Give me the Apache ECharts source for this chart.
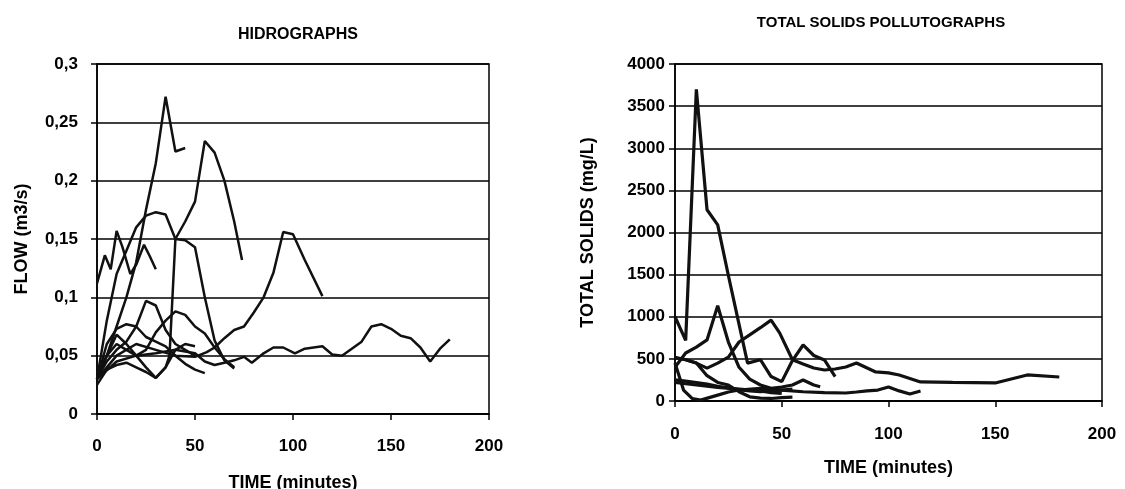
<!DOCTYPE html>
<html style="height: 100%">
<head>
<meta charset="utf-8">
<title>Hidrographs and pollutographs</title>
</head>
<body style="height: 100%; margin: 0; background: #fff">
<div id="container" style="width: 1125px; height: 489px"></div>
<script src="https://cdn.jsdelivr.net/npm/echarts@6/dist/echarts.min.js"></script>
<script>
// time (minutes) ticks shared by both charts
let timeTicks = [0, 50, 100, 150, 200];
let flowTicks = [0, 0.05, 0.1, 0.15, 0.2, 0.25, 0.3];
let solidsTicks = [0, 500, 1000, 1500, 2000, 2500, 3000, 3500, 4000];

// hidrographs: [time, flow m3/s]
let flow1 = [[0, 0.03], [5, 0.05], [10, 0.075], [15, 0.1], [20, 0.13], [25, 0.175], [30, 0.215], [35, 0.272], [40, 0.225], [45, 0.228]];
let flow2 = [[0, 0.025], [5, 0.038], [10, 0.042], [15, 0.044], [20, 0.04], [25, 0.036], [30, 0.031], [35, 0.04], [37, 0.05], [40, 0.15], [45, 0.165], [50, 0.182], [55, 0.234], [60, 0.224], [65, 0.2], [70, 0.165], [74, 0.132]];
let flow3 = [[0, 0.03], [5, 0.08], [10, 0.12], [15, 0.14], [20, 0.16], [25, 0.17], [30, 0.173], [35, 0.171], [40, 0.15], [45, 0.149], [50, 0.143], [55, 0.1], [60, 0.063], [65, 0.046], [70, 0.039]];
let flow4 = [[0, 0.112], [4, 0.136], [7, 0.124], [10, 0.157], [13, 0.143], [17, 0.12], [20, 0.128], [24, 0.145], [27, 0.135], [30, 0.124]];
let flow5 = [[0, 0.03], [5, 0.04], [10, 0.05], [20, 0.06], [30, 0.055], [40, 0.05], [50, 0.049], [56, 0.053], [60, 0.057], [65, 0.065], [70, 0.072], [75, 0.075], [80, 0.087], [85, 0.1], [90, 0.121], [95, 0.156], [100, 0.154], [106, 0.132], [115, 0.101]];
let flow6 = [[0, 0.03], [10, 0.045], [20, 0.05], [30, 0.052], [40, 0.055], [50, 0.052], [55, 0.045], [60, 0.042], [65, 0.044], [70, 0.046], [75, 0.049], [79, 0.044], [85, 0.052], [90, 0.057], [95, 0.057], [101, 0.052], [106, 0.056], [115, 0.058], [120, 0.051], [125, 0.05], [130, 0.056], [135, 0.062], [140, 0.075], [145, 0.077], [150, 0.073], [155, 0.067], [160, 0.065], [165, 0.057], [170, 0.045], [175, 0.056], [180, 0.064]];
let flow7 = [[0, 0.03], [5, 0.05], [10, 0.06], [15, 0.055], [20, 0.05], [25, 0.055], [30, 0.07], [35, 0.08], [40, 0.088], [45, 0.085], [50, 0.075], [55, 0.069], [60, 0.057], [65, 0.047], [70, 0.04]];
let flow8 = [[0, 0.03], [5, 0.045], [10, 0.055], [15, 0.062], [20, 0.075], [25, 0.097], [30, 0.093], [35, 0.072], [40, 0.06], [45, 0.055], [50, 0.05]];
let flow9 = [[0, 0.03], [5, 0.06], [10, 0.073], [15, 0.077], [20, 0.075], [25, 0.066], [30, 0.062], [35, 0.058], [40, 0.05], [45, 0.043], [50, 0.038], [55, 0.035]];
let flow10 = [[0, 0.035], [5, 0.05], [10, 0.068], [15, 0.06], [20, 0.05], [25, 0.04], [30, 0.031], [35, 0.04], [40, 0.055], [45, 0.06], [50, 0.058]];

// pollutographs: [time, total solids mg/L]
let solids1 = [[0, 1000], [5, 720], [10, 3700], [15, 2270], [20, 2090], [25, 1490], [30, 910], [34, 450], [40, 490], [45, 290], [50, 230], [55, 480], [60, 665], [65, 540], [70, 487], [75, 290]];
let solids2 = [[0, 400], [5, 570], [10, 640], [15, 725], [20, 1130], [25, 700], [30, 400], [35, 260], [40, 190], [45, 150], [50, 166], [55, 190], [60, 250], [65, 190], [68, 170]];
let solids3 = [[0, 520], [5, 490], [10, 450], [15, 390], [20, 450], [25, 520], [30, 700], [35, 785], [40, 870], [45, 960], [49, 808], [55, 490], [60, 440], [65, 392], [70, 368], [75, 380], [80, 404], [85, 451], [94, 345], [100, 333], [105, 309], [115, 226], [130, 220], [150, 214], [165, 309], [180, 285]];
let solids4 = [[0, 510], [5, 490], [10, 450], [15, 300], [20, 220], [25, 190], [30, 110], [35, 50], [40, 35], [45, 30], [50, 40], [55, 45]];
let solids5 = [[0, 250], [5, 235], [10, 220], [15, 200], [20, 175], [25, 155], [30, 135], [35, 120], [40, 110], [45, 120], [50, 130], [55, 140]];
let solids6 = [[0, 450], [4, 130], [8, 30], [12, 10], [20, 70], [25, 107], [30, 130], [40, 150], [50, 130], [60, 110], [70, 100], [80, 95], [85, 107], [90, 120], [95, 130], [100, 166], [105, 120], [110, 83], [115, 119]];
let solids7 = [[0, 220], [10, 190], [20, 160], [30, 140], [40, 120], [45, 100], [50, 90]];

let flowSeries = [flow1, flow2, flow3, flow4, flow5, flow6, flow7, flow8, flow9, flow10];
let solidsSeries = [solids1, solids2, solids3, solids4, solids5, solids6, solids7];

let font = "Liberation Sans, Arial, sans-serif";

function makeSeries(list, gridIndex, width) {
    return list.map(function (data) {
        return {
            type: "line",
            xAxisIndex: gridIndex,
            yAxisIndex: gridIndex,
            data: data,
            symbol: "none",
            silent: true,
            lineStyle: { color: "#111", width: width }
        };
    });
}

function timeAxis(gridIndex, labelMargin, nameGap) {
    return {
        type: "value",
        gridIndex: gridIndex,
        min: timeTicks[0],
        max: timeTicks[timeTicks.length - 1],
        interval: 50,
        name: "TIME (minutes)",
        nameLocation: "middle",
        nameGap: nameGap,
        nameTextStyle: { color: "#000", fontFamily: font, fontWeight: "bold", fontSize: 18 },
        axisLine: { lineStyle: { color: "#000", width: 1.5 } },
        axisTick: { show: true, length: 6, lineStyle: { color: "#000", width: 1.5 } },
        axisLabel: { color: "#000", fontFamily: font, fontWeight: "bold", fontSize: 17, margin: labelMargin },
        splitLine: { show: false }
    };
}

function drawChart() {
    let dom = document.getElementById("container");
    let chart = echarts.init(dom, null, { renderer: "canvas" });

    let option = {
        animation: false,
        backgroundColor: "#fff",
        title: [
            {
                text: "HIDROGRAPHS",
                left: 293, top: 22, textAlign: "center",
                textStyle: { color: "#000", fontFamily: font, fontWeight: "bold", fontSize: 16 }
            },
            {
                text: "TOTAL SOLIDS POLLUTOGRAPHS",
                left: 876, top: 10, textAlign: "center",
                textStyle: { color: "#000", fontFamily: font, fontWeight: "bold", fontSize: 15 }
            }
        ],
        grid: [
            { left: 97, top: 64, width: 392, height: 350, outerBoundsMode: "none", show: true, borderColor: "#000", borderWidth: 1.5 },
            { left: 675, top: 64, width: 427, height: 337, outerBoundsMode: "none", show: true, borderColor: "#000", borderWidth: 1.5 }
        ],
        xAxis: [timeAxis(0, 24, 60), timeAxis(1, 25, 58)],
        yAxis: [
            {
                type: "value",
                gridIndex: 0,
                min: flowTicks[0],
                max: flowTicks[flowTicks.length - 1],
                interval: 0.05,
                name: "FLOW (m3/s)",
                nameLocation: "middle",
                nameGap: 66,
                nameTextStyle: { color: "#000", fontFamily: font, fontWeight: "bold", fontSize: 18 },
                axisLine: { show: true, lineStyle: { color: "#000", width: 1.5 } },
                axisTick: { show: true, length: 6, lineStyle: { color: "#000", width: 1.5 } },
                axisLabel: {
                    color: "#000", fontFamily: font, fontWeight: "bold", fontSize: 17, margin: 19,
                    formatter: function (v) { return String(Math.round(v * 100) / 100).replace(".", ","); }
                },
                splitLine: { show: true, lineStyle: { color: "#000", width: 1.5 } }
            },
            {
                type: "value",
                gridIndex: 1,
                min: solidsTicks[0],
                max: solidsTicks[solidsTicks.length - 1],
                interval: 500,
                name: "TOTAL SOLIDS (mg/L)",
                nameLocation: "middle",
                nameGap: 78,
                nameTextStyle: { color: "#000", fontFamily: font, fontWeight: "bold", fontSize: 18 },
                axisLine: { show: true, lineStyle: { color: "#000", width: 1.5 } },
                axisTick: { show: true, length: 6, lineStyle: { color: "#000", width: 1.5 } },
                axisLabel: {
                    color: "#000", fontFamily: font, fontWeight: "bold", fontSize: 17, margin: 10,
                    formatter: function (v) { return String(v); }
                },
                splitLine: { show: true, lineStyle: { color: "#000", width: 1.5 } }
            }
        ],
        series: makeSeries(flowSeries, 0, 2.5).concat(makeSeries(solidsSeries, 1, 3.2))
    };

    chart.setOption(option);
}

drawChart();
</script>
</body>
</html>
